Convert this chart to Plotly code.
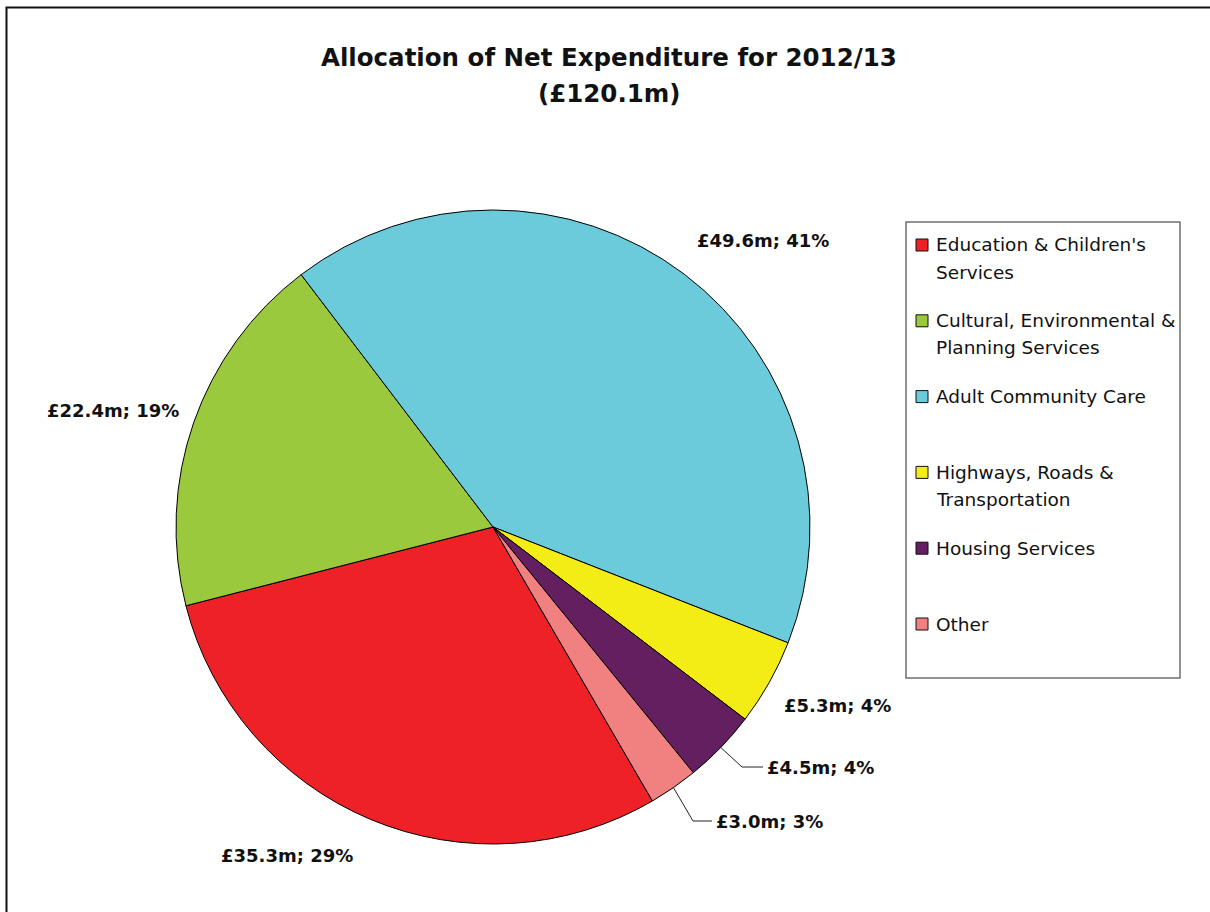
import math
import plotly.graph_objects as go

# Net expenditure 2012/13, £m
categories = [
    "Education & Children's Services",
    "Cultural, Environmental & Planning Services",
    "Adult Community Care",
    "Highways, Roads & Transportation",
    "Housing Services",
    "Other",
]
legend_text = [
    "Education & Children's<br>Services",
    "Cultural, Environmental &<br>Planning Services",
    "Adult Community Care",
    "Highways, Roads &<br>Transportation",
    "Housing Services",
    "Other",
]
spend_m = [35.3, 22.4, 49.6, 5.3, 4.5, 3.0]
pct_labels = [29, 19, 41, 4, 4, 3]
title_lines = ["Allocation of Net Expenditure for 2012/13", "(£120.1m)"]

colors = ["#EE2226", "#9BC93D", "#6BCBDB", "#F3EC15", "#631F60", "#F18080"]

W, H = 1210, 912
FONT = "DejaVu Sans"

# pie geometry (pixels)
CX, CY, R = 493, 527, 317
ROTATION = 149.8


def px(x, y):
    return x / W, 1 - y / H


fig = go.Figure()
fig.add_trace(go.Pie(
    labels=categories,
    values=spend_m,
    sort=False,
    direction="clockwise",
    rotation=ROTATION,
    marker=dict(colors=colors, line=dict(color="#000000", width=1)),
    textinfo="none",
    hovertemplate="%{label}<br>£%{value:.1f}m<extra></extra>",
    domain=dict(x=[(CX - R) / W, (CX + R) / W], y=[1 - (CY + R) / H, 1 - (CY - R) / H]),
    showlegend=False,
))

# slice mid-angles (clockwise from 12 o'clock) from the values
mid_angles = []
acc = ROTATION
for v in spend_m:
    span = v / sum(spend_m) * 360
    mid_angles.append(acc + span / 2)
    acc += span

# data label centres (pixels) and optional leader elbows
label_xy = [(287, 855), (113, 411), (763, 241), (837, 705), (820, 767), (769, 821)]
leader_elbow = [None, None, None, None, (742, 767), (693, 821)]
leader_end_x = [None, None, None, None, 763, 712]

annotations = []
shapes = []
for i, v in enumerate(spend_m):
    lx, ly = label_xy[i]
    x, y = px(lx, ly)
    annotations.append(dict(
        x=x, y=y, xref="paper", yref="paper", showarrow=False,
        text=f"<b>£{v:.1f}m; {pct_labels[i]}%</b>",
        font=dict(family=FONT, size=18, color="#111111"),
        xanchor="center", yanchor="middle",
    ))
    if leader_elbow[i] is not None:
        a = math.radians(mid_angles[i])
        sx, sy = CX + R * math.sin(a), CY - R * math.cos(a)
        ex, ey = leader_elbow[i]
        p0, p1, p2 = px(sx, sy), px(ex, ey), px(leader_end_x[i], ey)
        shapes.append(dict(
            type="path", xref="paper", yref="paper",
            path=f"M {p0[0]},{p0[1]} L {p1[0]},{p1[1]} L {p2[0]},{p2[1]}",
            line=dict(color="#222222", width=1),
        ))

# title, two centred lines
for j, line in enumerate(title_lines):
    tx, ty = px(609, 57 + j * 36)
    annotations.append(dict(
        x=tx, y=ty, xref="paper", yref="paper", showarrow=False,
        text=f"<b>{line}</b>",
        font=dict(family=FONT, size=24.5, color="#111111"),
        xanchor="center", yanchor="middle",
    ))

# legend box
lx0, ly0, lx1, ly1 = 906, 222, 1180, 678
p0, p1 = px(lx0, ly0), px(lx1, ly1)
shapes.append(dict(type="rect", xref="paper", yref="paper",
                   x0=p0[0], y0=p0[1], x1=p1[0], y1=p1[1],
                   line=dict(color="#6e6e6e", width=1.5), fillcolor="white", layer="below"))
ROW0, ROW_STEP, LINE_STEP = 245, 75.8, 27
for i, txt in enumerate(legend_text):
    yc = ROW0 + i * ROW_STEP
    s0, s1 = px(916, yc - 6), px(928, yc + 6)
    shapes.append(dict(type="rect", xref="paper", yref="paper",
                       x0=s0[0], y0=s0[1], x1=s1[0], y1=s1[1],
                       line=dict(color="#111111", width=1), fillcolor=colors[i]))
    for j, line in enumerate(txt.split("<br>")):
        tx, ty = px(934, yc + j * LINE_STEP)
        annotations.append(dict(
            x=tx, y=ty, xref="paper", yref="paper", showarrow=False,
            text=line, font=dict(family=FONT, size=18.5, color="#111111"),
            xanchor="left", yanchor="middle",
        ))

# outer chart frame
f0, f1 = px(6.5, 7.5), px(1230, 940)
shapes.append(dict(type="rect", xref="paper", yref="paper",
                   x0=f0[0], y0=f0[1], x1=f1[0], y1=f1[1],
                   line=dict(color="#111111", width=2), layer="below"))

fig.update_layout(
    width=W, height=H,
    margin=dict(l=0, r=0, t=0, b=0),
    paper_bgcolor="white",
    plot_bgcolor="white",
    annotations=annotations,
    shapes=shapes,
)

fig.write_html("out.html")
